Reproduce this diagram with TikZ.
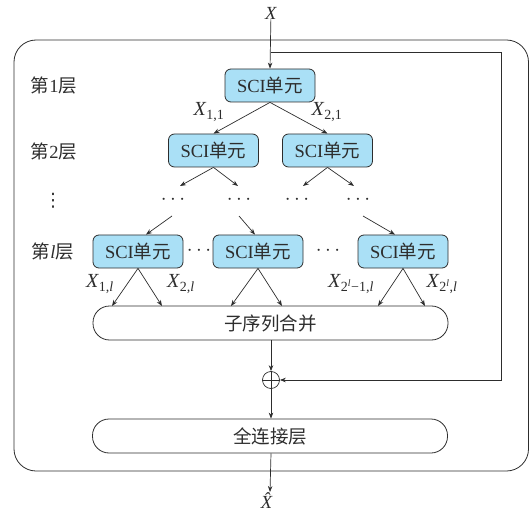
\documentclass[tikz,border=0pt]{standalone}
\usepackage{fontspec}
\setmainfont{Liberation Serif}
\newfontfamily\cjk{Noto Sans CJK SC}
\newfontfamily\djv{DejaVu Sans}
\usetikzlibrary{arrows.meta}
\definecolor{sciblue}{RGB}{170,224,246}
\definecolor{ink}{RGB}{45,45,45}
\newcommand{\Xs}[1]{\textit{X}\textsubscript{#1}}
\newcommand{\sci}{SCI{\cjk 单元}}
\begin{document}
\begin{tikzpicture}[x=1pt,y=-1pt,
  font=\fontsize{18.5}{22}\selectfont,
  every node/.style={text=ink},
  scibox/.style={draw=ink, line width=0.8pt, fill=sciblue, rounded corners=6pt, minimum width=90pt, minimum height=33pt, inner sep=0pt},
  widebox/.style={draw=ink, line width=0.8pt, rounded corners=16.5pt, minimum width=355pt, minimum height=34pt, inner sep=0pt},
  arr/.style={draw=ink, line width=0.7pt, -{Stealth[length=6pt,width=4.5pt]}},
  ln/.style={draw=ink, line width=0.7pt},
  lab/.style={inner sep=0pt},
  xlab/.style={inner sep=0pt, font=\fontsize{20}{24}\selectfont},
  dots/.style={inner sep=0pt, font=\fontsize{22}{24}\selectfont},
]
\useasboundingbox (0,0) rectangle (530,513);
\draw[ink, line width=0.8pt, rounded corners=22pt] (14,40) rectangle (528.5,471);

% input
\node[lab] (X) at (271,13) {\textit{X}};
\node[scibox] (s1) at (270,85.5) {\sci};
\coordinate (br) at (270.5,52);
\draw[arr] (X) -- (s1.north);
\coordinate (fb1) at (501,52);
\coordinate (fb2) at (501,380);

% layer labels
\node (L1) at (54,86) {{\cjk 第}1{\cjk 层}};
\node (L2) at (54,152) {{\cjk 第}2{\cjk 层}};
\node (Lv) at (53,201) {{\djv ⋮}};
\node (Ll) at (53,252) {{\cjk 第}\textit{l}{\cjk 层}};

% level 2
\node[scibox] (s2a) at (213.5,150.5) {\sci};
\node[scibox] (s2b) at (327.5,150.5) {\sci};
\draw[arr] (s1.south) -- (s2a.north);
\draw[arr] (s1.south) -- (s2b.north);
\node[xlab] (x11) at (209,112) {\Xs{1,1}};
\node[xlab] (x21) at (327,112) {\Xs{2,1}};

% dots row
\node[dots] (d1) at (173,200) {$\cdots$};
\node[dots] (d2) at (239,200) {$\cdots$};
\node[dots] (d3) at (297,200) {$\cdots$};
\node[dots] (d4) at (358,200) {$\cdots$};
\coordinate (e1) at (180,186);
\coordinate (e2) at (238,186);
\coordinate (e3) at (303,186);
\coordinate (e4) at (354,186);
\draw[arr] (s2a.south) -- (e1);
\draw[arr] (s2a.south) -- (e2);
\draw[arr] (s2b.south) -- (e3);
\draw[arr] (s2b.south) -- (e4);

% level l
\node[scibox] (la) at (138,251.5) {\sci};
\node[scibox] (lb) at (258,251.5) {\sci};
\node[scibox] (lc) at (403,251.5) {\sci};
\node[dots] (dab) at (199,251) {$\cdots$};
\node[dots] (dbc) at (328,251) {$\cdots$};
\coordinate (f1) at (172,216);
\coordinate (f2) at (239,216);
\coordinate (f3) at (363,216);
\draw[arr] (f1) -- ([xshift=8pt]la.north);
\draw[arr] (f2) -- ([xshift=-3pt]lb.north);
\draw[arr] (f3) -- ([xshift=-8pt]lc.north);

% merge
\node[widebox] (m) at (270.5,323) {{\cjk 子序列合并}};
\coordinate (ma1) at (112,306);
\coordinate (ma2) at (162,306);
\coordinate (mb1) at (231,306);
\coordinate (mb2) at (282,306);
\coordinate (mc1) at (378,306);
\coordinate (mc2) at (425,306);
\draw[arr] (la.south) -- (ma1);
\draw[arr] (la.south) -- (ma2);
\draw[arr] (lb.south) -- (mb1);
\draw[arr] (lb.south) -- (mb2);
\draw[arr] (lc.south) -- (mc1);
\draw[arr] (lc.south) -- (mc2);
\node[xlab] (x1l) at (100,284) {\Xs{1,\textit{l}}};
\node[xlab] (x2l) at (181,284) {\Xs{2,\textit{l}}};
\node[xlab] (x3l) at (351,284) {\Xs{2\textsuperscript{\textit{l}}−1,\textit{l}}};
\node[xlab] (x4l) at (442,284) {\Xs{2\textsuperscript{\textit{l}},\textit{l}}};

% plus
\node[circle, draw=ink, line width=0.7pt, minimum size=17pt, inner sep=0pt] (plus) at (271,380) {};
\draw[ln] (plus.north) -- (plus.south) (plus.west) -- (plus.east);
\draw[arr] (m.south -| plus) -- (plus.north);
\draw[arr] (br) -- (fb1) -- (fb2) -- (plus.east);

% fully connected
\node[widebox] (fc) at (270,436) {{\cjk 全连接层}};
\draw[arr] (plus.south) -- (fc.north -| plus);
\node[lab, anchor=north] (Xh) at (270,492) {\textit{\^{X}}};
\draw[arr] (fc.south -| plus) -- (Xh.north);
\end{tikzpicture}
\end{document}
